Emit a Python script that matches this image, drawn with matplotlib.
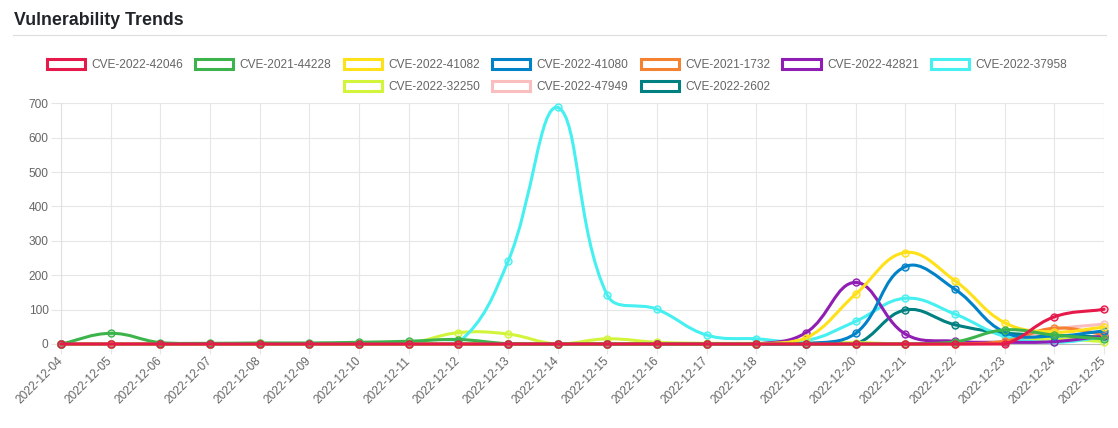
import numpy as np
import matplotlib
matplotlib.use('Agg')
import matplotlib.pyplot as plt
from matplotlib.path import Path
from matplotlib.patches import PathPatch, Rectangle
from matplotlib.lines import Line2D
from matplotlib.colors import to_rgba

plt.rcParams['font.family'] = ['Liberation Sans', 'DejaVu Sans']

# x axis: one label per day
dates = ['2022-12-04', '2022-12-05', '2022-12-06', '2022-12-07', '2022-12-08',
         '2022-12-09', '2022-12-10', '2022-12-11', '2022-12-12', '2022-12-13',
         '2022-12-14', '2022-12-15', '2022-12-16', '2022-12-17', '2022-12-18',
         '2022-12-19', '2022-12-20', '2022-12-21', '2022-12-22', '2022-12-23',
         '2022-12-24', '2022-12-25']

# values (one per date)
cve_2022_42046 = [0, 0, 0, 0, 0, 0, 0, 0, 0, 0, 0, 0, 0, 0, 0, 0, 0, 0, 0, 0, 79, 101]
cve_2021_44228 = [0, 31, 4, 2, 3, 3, 5, 8, 13, 1, 0, 0, 0, 0, 0, 0, 0, 0, 6, 41, 26, 15]
cve_2022_41082 = [0, 0, 0, 0, 0, 0, 0, 0, 0, 0, 0, 0, 0, 0, 0, 17, 145, 266, 184, 62, 35, 49]
cve_2022_41080 = [0, 0, 0, 0, 0, 0, 0, 0, 0, 0, 0, 0, 0, 0, 0, 1, 31, 225, 159, 34, 23, 38]
cve_2021_1732 = [0, 0, 0, 0, 0, 0, 0, 0, 0, 0, 0, 0, 0, 0, 0, 0, 0, 0, 0, 8, 46, 28]
cve_2022_42821 = [0, 0, 0, 0, 0, 0, 0, 0, 0, 0, 0, 0, 0, 0, 0, 33, 179, 29, 8, 5, 7, 23]
cve_2022_37958 = [0, 0, 0, 0, 0, 0, 0, 0, 4, 240, 688, 142, 101, 26, 15, 10, 66, 133, 87, 22, 5, 20]
cve_2022_32250 = [0, 0, 0, 0, 2, 0, 0, 2, 33, 29, 0, 15, 5, 2, 2, 2, 4, 0, 2, 6, 15, 7]
cve_2022_47949 = [0, 0, 0, 0, 0, 0, 0, 0, 0, 0, 0, 0, 0, 0, 0, 0, 0, 0, 0, 3, 42, 58]
cve_2022_2602 = [0, 0, 0, 0, 0, 0, 0, 0, 0, 0, 0, 0, 0, 0, 0, 0, 0, 99, 56, 32, 26, 20]

series = [
    ('CVE-2022-42046', cve_2022_42046, '#e6194b'),
    ('CVE-2021-44228', cve_2021_44228, '#3cb44b'),
    ('CVE-2022-41082', cve_2022_41082, '#ffe119'),
    ('CVE-2022-41080', cve_2022_41080, '#0082c8'),
    ('CVE-2021-1732', cve_2021_1732, '#f58231'),
    ('CVE-2022-42821', cve_2022_42821, '#911eb4'),
    ('CVE-2022-37958', cve_2022_37958, '#46f0f0'),
    ('CVE-2022-32250', cve_2022_32250, '#d2f53c'),
    ('CVE-2022-47949', cve_2022_47949, '#fabebe'),
    ('CVE-2022-2602', cve_2022_2602, '#008080'),
]


def smooth_path(ax, vals, tension=0.4):
    # bezier spline in the same way chart.js draws its curved lines
    pts = ax.transData.transform(np.column_stack([np.arange(len(vals)), vals]))
    n = len(pts)
    c_prev = np.zeros_like(pts)
    c_next = np.zeros_like(pts)
    for i in range(n):
        prev = pts[i - 1] if i > 0 else pts[i]
        nxt = pts[i + 1] if i < n - 1 else pts[i]
        d01 = np.hypot(*(pts[i] - prev))
        d12 = np.hypot(*(nxt - pts[i]))
        tot = d01 + d12
        s01 = d01 / tot if tot else 0
        s12 = d12 / tot if tot else 0
        c_prev[i] = pts[i] - tension * s01 * (nxt - prev)
        c_next[i] = pts[i] + tension * s12 * (nxt - prev)
    bb = ax.bbox
    for c in (c_prev, c_next):
        c[:, 0] = np.clip(c[:, 0], bb.x0, bb.x1)
        c[:, 1] = np.clip(c[:, 1], bb.y0, bb.y1)
    verts = [pts[0]]
    codes = [Path.MOVETO]
    for i in range(1, n):
        verts += [c_next[i - 1], c_prev[i], pts[i]]
        codes += [Path.CURVE4] * 3
    return Path(ax.transData.inverted().transform(np.array(verts)), codes)


W, H = 1118, 428
fig = plt.figure(figsize=(W / 100, H / 100), dpi=100)
fig.patch.set_facecolor('white')

# title + rule underneath
fig.text(14 / W, 1 - 25 / H, 'Vulnerability Trends', fontsize=12.8, fontweight='bold',
         color='#212529', va='baseline', ha='left')
fig.add_artist(Line2D([13 / W, 1106 / W], [1 - 34.5 / H, 1 - 34.5 / H],
                      color='#dddddd', lw=0.8))

ax = fig.add_axes([61 / W, (H - 344) / H, (1104 - 61) / W, (344 - 103.3) / H])
ax.set_xlim(0, len(dates) - 1)
ax.set_ylim(0, 700)

x = np.arange(len(dates))
n_series = len(series)
for k, (name, vals, col) in enumerate(series):
    z = 10 + (n_series - k) * 2  # first dataset ends up on top
    p = smooth_path(ax, vals)
    ax.add_patch(PathPatch(p, fill=False, edgecolor=col, lw=2.2, zorder=z,
                           clip_on=False, capstyle='round', joinstyle='round'))
    ax.plot(x, vals, 'o', ms=5, mew=1, mec=col, mfc=to_rgba(col, 0.2),
            zorder=z + 1, clip_on=False)

# axes styling
ax.set_yticks(np.arange(0, 701, 100))
ax.set_xticks(x)
ax.set_xticklabels(dates, rotation=45, ha='right', va='center', rotation_mode='anchor')
ax.grid(True, color='#e6e6e6', lw=0.8)
ax.set_axisbelow(True)
for s in ['top', 'right']:
    ax.spines[s].set_visible(False)
ax.spines['left'].set_color('#e0e0e0')
ax.spines['bottom'].set_color('#bdbdbd')
ax.tick_params(axis='both', length=7, color='#e6e6e6', labelsize=8.6,
               labelcolor='#666666', width=0.8)
ax.tick_params(axis='y', pad=2)
ax.tick_params(axis='x', pad=4)

# legend, chart.js style: two centred rows of outlined boxes
handles = [Rectangle((0, 0), 1, 1, facecolor='white', edgecolor=c, lw=2.2)
           for _, _, c in series]
labels = [s[0] for s in series]
leg_kw = dict(frameon=False, fontsize=8.6, handlelength=3.2, handleheight=1.0,
              handletextpad=0.55, columnspacing=1.0, borderpad=0, loc='center',
              labelcolor='#666666', bbox_transform=fig.transFigure)
leg1 = ax.legend(handles[:7], labels[:7], ncol=7,
                 bbox_to_anchor=(557 / W, 1 - 65 / H), **leg_kw)
ax.add_artist(leg1)
ax.legend(handles[7:], labels[7:], ncol=3,
          bbox_to_anchor=(557 / W, 1 - 87 / H), **leg_kw)

fig.savefig('out.png', dpi=100)
